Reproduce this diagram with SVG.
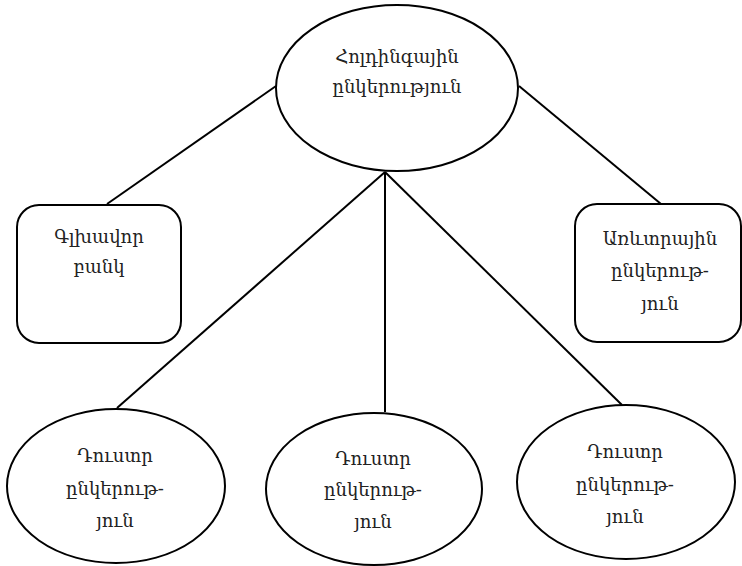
<svg xmlns="http://www.w3.org/2000/svg" width="742" height="566" viewBox="0 0 742 566">
  <style>
    .shape { fill: #ffffff; stroke: #000000; stroke-width: 2; }
    .link { fill: none; stroke: #000000; stroke-width: 2; }
    .label { font-family: "DejaVu Serif", "Noto Sans", serif; font-size: 18px; fill: #222222; text-anchor: middle; }
  </style>
  <rect width="742" height="566" fill="#ffffff"/>

  <!-- connectors -->
  <g id="connectors">
    <line class="link" x1="276" y1="86" x2="107" y2="204"/>
    <line class="link" x1="519" y1="86" x2="661" y2="204"/>
    <line class="link" x1="385" y1="172" x2="117" y2="408"/>
    <line class="link" x1="385" y1="172" x2="385" y2="412"/>
    <line class="link" x1="385" y1="172" x2="622" y2="405"/>
  </g>

  <!-- holding company -->
  <g id="holding">
    <ellipse class="shape" cx="397" cy="88" rx="121" ry="83"/>
    <text class="label" x="397" y="63">Հոլդինգային</text>
    <text class="label" x="397" y="93">ընկերություն</text>
  </g>

  <!-- head bank -->
  <g id="head-bank">
    <rect class="shape" x="17" y="205" width="164" height="138" rx="22" ry="22"/>
    <text class="label" x="99" y="243">Գլխավոր</text>
    <text class="label" x="99" y="273">բանկ</text>
  </g>

  <!-- commercial company -->
  <g id="commercial">
    <rect class="shape" x="575" y="204" width="166" height="138" rx="22" ry="22"/>
    <text class="label" x="660" y="245">Առևտրային</text>
    <text class="label" x="660" y="277">ընկերութ-</text>
    <text class="label" x="660" y="310">յուն</text>
  </g>

  <!-- subsidiaries -->
  <g id="subsidiary-1">
    <ellipse class="shape" cx="116" cy="486" rx="109" ry="77"/>
    <text class="label" x="115" y="462">Դուստր</text>
    <text class="label" x="115" y="495">ընկերութ-</text>
    <text class="label" x="115" y="527">յուն</text>
  </g>

  <g id="subsidiary-2">
    <ellipse class="shape" cx="374" cy="489" rx="108" ry="76"/>
    <text class="label" x="373" y="465">Դուստր</text>
    <text class="label" x="373" y="496">ընկերութ-</text>
    <text class="label" x="373" y="528">յուն</text>
  </g>

  <g id="subsidiary-3">
    <ellipse class="shape" cx="626" cy="482" rx="109" ry="77"/>
    <text class="label" x="625" y="458">Դուստր</text>
    <text class="label" x="625" y="491">ընկերութ-</text>
    <text class="label" x="625" y="523">յուն</text>
  </g>
</svg>
